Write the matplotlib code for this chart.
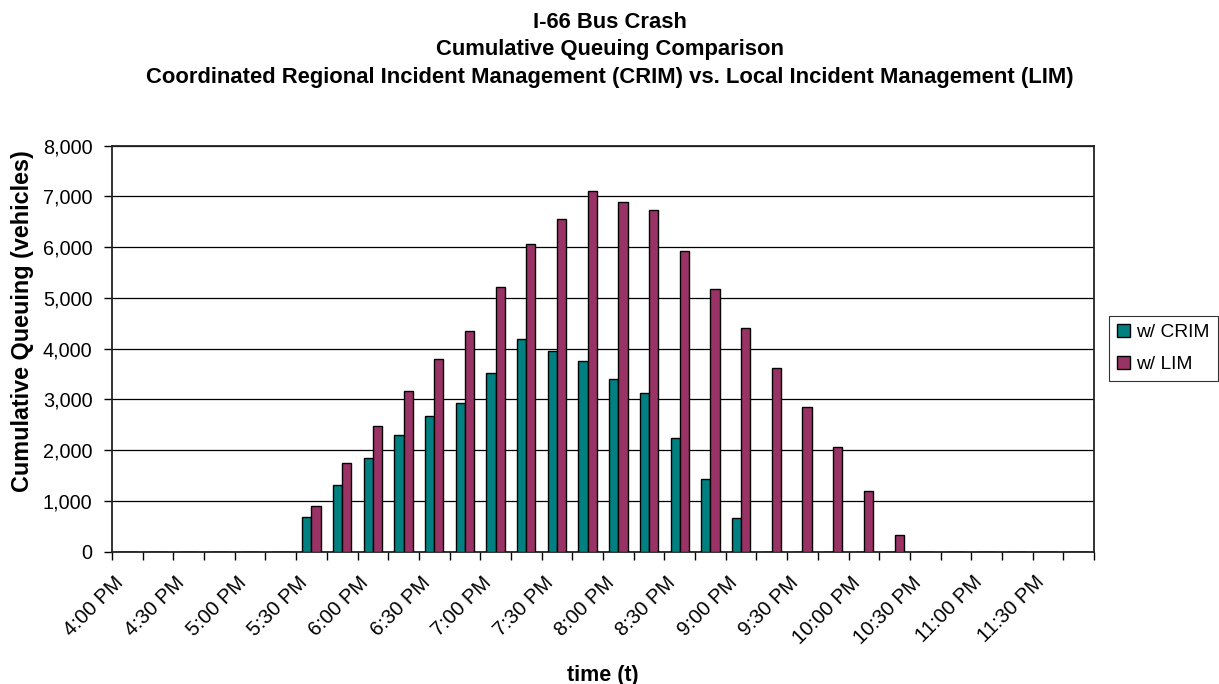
import matplotlib
matplotlib.use("Agg")
import matplotlib.pyplot as plt
import numpy as np

plt.rcParams['font.family'] = ['Liberation Sans', 'DejaVu Sans']

# 15-minute intervals from 4:00 PM to 11:45 PM
times = []
for h in range(4, 12):
    for m in (0, 15, 30, 45):
        times.append(f"{h}:{m:02d} PM")

crim = [0, 0, 0, 0, 0, 0, 690, 1320, 1846, 2293, 2680, 2924, 3527, 4191,
        3949, 3758, 3397, 3121, 2234, 1432, 664, 0, 0, 0, 0, 0, 0, 0, 0, 0, 0, 0]
lim = [0, 0, 0, 0, 0, 0, 906, 1742, 2483, 3173, 3803, 4355, 5210, 6063,
       6562, 7114, 6897, 6733, 5925, 5183, 4414, 3614, 2845, 2069, 1190, 329,
       0, 0, 0, 0, 0, 0]

series_names = ["w/ CRIM", "w/ LIM"]
colors = ["#008080", "#993366"]

W, H = 1219, 684
fig = plt.figure(figsize=(W / 100, H / 100), dpi=100)
ax = fig.add_axes([112 / W, 1 - 551.7 / H, (1094 - 112) / W, (551.7 - 145.7) / H])

x = np.arange(len(times))
w = 0.3
for vals, off, name, c in zip([crim, lim], [-w / 2, w / 2], series_names, colors):
    ax.bar(x + off, vals, width=w, color=c, edgecolor="black", linewidth=1.0,
           label=name, zorder=3)

ax.set_xlim(-0.5, len(times) - 0.5)
ax.set_ylim(0, 8000)
ax.set_yticks(np.arange(0, 8001, 1000))
ax.set_yticklabels([f"{v:,}" for v in range(0, 8001, 1000)], fontsize=14.3)
ax.yaxis.grid(True, color="black", linewidth=0.9, zorder=0)
ax.set_axisbelow(True)

# tick marks on category boundaries; labels for every other category,
# anchored slightly left of the category centre
ax.set_xticks(np.arange(-0.5, len(times), 1.0))
ax.set_xticklabels([])
ax.set_xticks(x[::2] - 0.23, minor=True)
ax.set_xticklabels(times[::2], minor=True, rotation=45, ha="right",
                   va="center", rotation_mode="anchor", fontsize=14.6)
ax.tick_params(axis="x", which="minor", length=0, pad=20)
ax.tick_params(axis="x", which="major", length=6, width=1, direction="out")
ax.tick_params(axis="y", length=6, width=1, direction="out", pad=8)

for s in ax.spines.values():
    s.set_linewidth(1.3)
    s.set_color("#222222")

fig.text(23 / W, 1 - 321 / H, "Cumulative Queuing (vehicles)", rotation=90,
         ha="center", va="center", fontsize=16.8, fontweight="bold")
fig.text(603 / W, 1 - 675 / H, "time (t)", ha="center", va="center",
         fontsize=15.5, fontweight="bold")

titles = ["I-66 Bus Crash", "Cumulative Queuing Comparison",
          "Coordinated Regional Incident Management (CRIM) vs. Local Incident Management (LIM)"]
for i, t in enumerate(titles):
    fig.text(0.5, 1 - (22 + 28 * i) / H, t, ha="center", va="center",
             fontsize=15.8, fontweight="bold")

leg = ax.legend(loc="center left", bbox_to_anchor=(1.0153, 0.5), fontsize=13.8,
                frameon=True, fancybox=False, edgecolor="black",
                handlelength=0.68, handleheight=0.68, handletextpad=0.35,
                borderpad=0.4, labelspacing=0.76, borderaxespad=0)
leg.get_frame().set_linewidth(0.8)

fig.savefig("out.png", dpi=100)
